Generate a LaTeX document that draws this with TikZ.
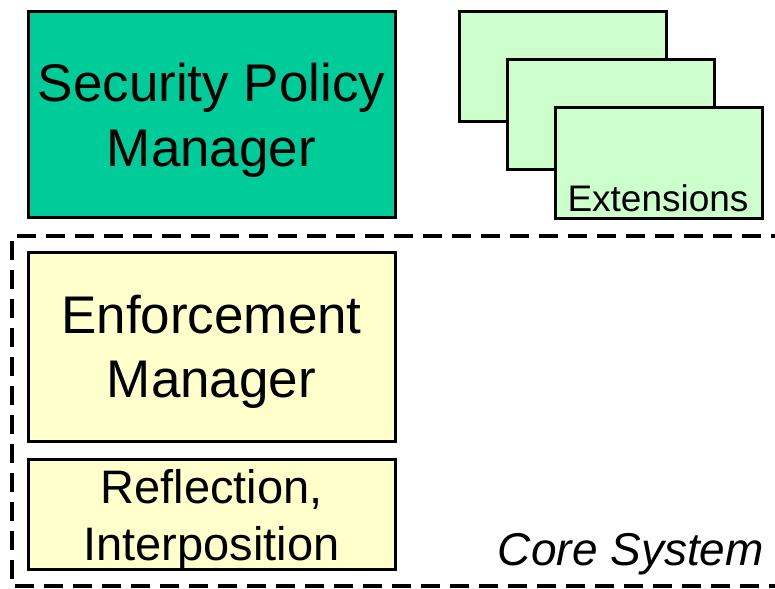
\documentclass[tikz,border=0pt]{standalone}
\usepackage{fontspec}
\setmainfont{Liberation Sans}
\begin{document}
\begin{tikzpicture}[x=1pt,y=-1pt,
  box/.style={draw=black,line width=3.5pt},
  big/.style={font=\fontsize{53}{64}\selectfont,inner sep=0pt},
  mid/.style={font=\fontsize{47}{57}\selectfont,inner sep=0pt},
  small/.style={font=\fontsize{37}{44}\selectfont,inner sep=0pt},
  core/.style={dash pattern=on 19pt off 10pt,line width=3.5pt}]
\useasboundingbox (0,0) rectangle (775,588);
\definecolor{spmgreen}{HTML}{00CC99}
\definecolor{extgreen}{HTML}{CCFFCC}
\definecolor{enfyellow}{HTML}{FFFFCC}
% core system dashed region
\draw[core] (790,236) -- (12,236) -- (12,586) -- (790,586);
% security policy manager
\draw[box,fill=spmgreen] (28.5,11.5) rectangle (395.5,217.5);
\node[big,anchor=base] (spm1) at (211.5,102) {Security Policy};
\node[big,anchor=base] (spm2) at (211.5,166) {Manager};
% extensions
\draw[box,fill=extgreen] (459.5,11.5) rectangle (666.5,121.5);
\draw[box,fill=extgreen] (507.5,59.5) rectangle (714.5,169.5);
\draw[box,fill=extgreen] (555.5,107.5) rectangle (762.5,218.5);
\node[small,anchor=base] (ext) at (658,211) {Extensions};
% enforcement manager
\draw[box,fill=enfyellow] (28.5,252.5) rectangle (395.5,441.5);
\node[big,anchor=base] (enf1) at (211.5,333) {Enforcement};
\node[big,anchor=base] (enf2) at (211.5,397) {Manager};
% reflection
\draw[box,fill=enfyellow] (28.5,459.5) rectangle (395.5,569.5);
\node[mid,anchor=base] (ref1) at (211.5,503) {Reflection,};
\node[mid,anchor=base] (ref2) at (211.5,560) {Interposition};
% label
\node[mid,font=\fontsize{46}{55}\selectfont\itshape,anchor=base east] (corelbl) at (764,565) {Core System};
\end{tikzpicture}
\end{document}
